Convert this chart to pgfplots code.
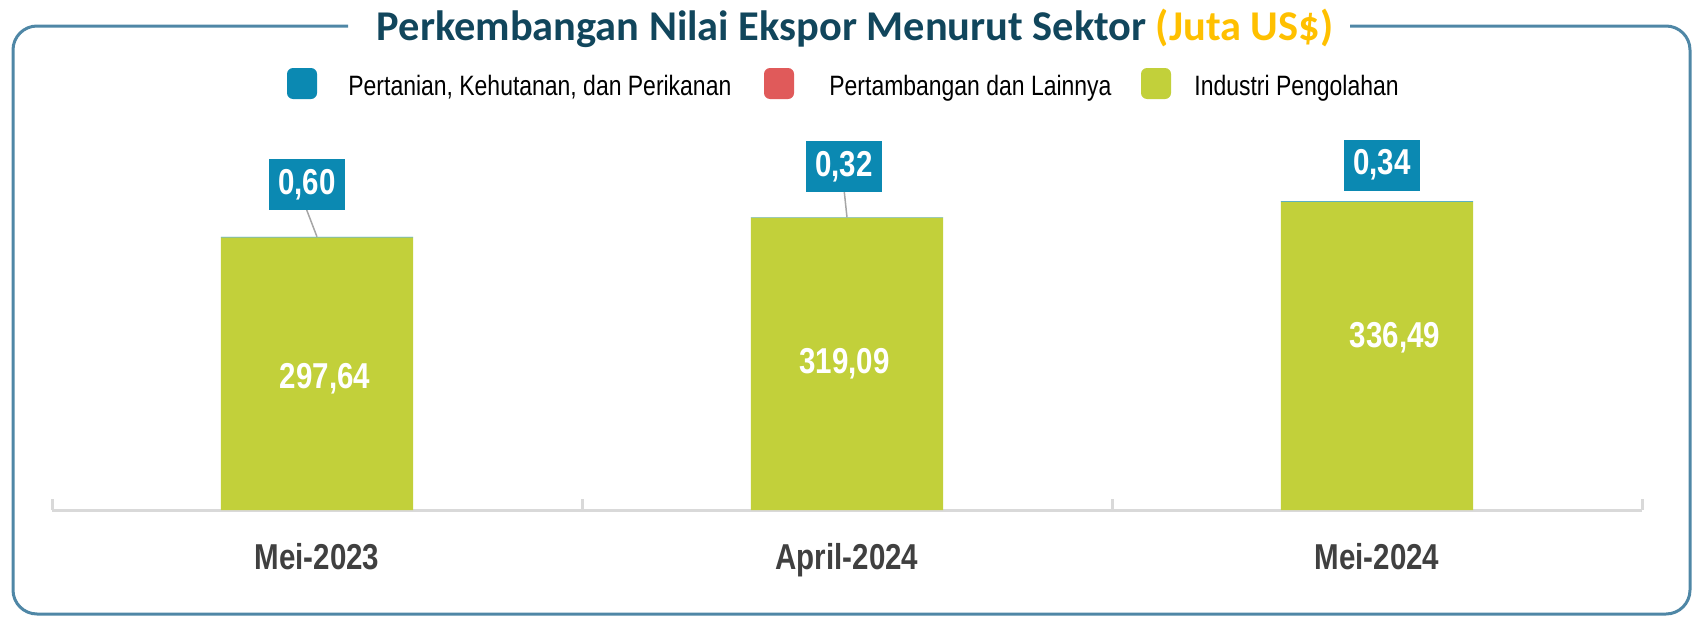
\documentclass[border=0pt]{standalone}
\usepackage{pgfplots}
\pgfplotsset{compat=1.18}
\usepackage{fontspec}
\setmainfont{Liberation Sans}
\newfontfamily\narrow[FakeStretch=0.82]{Liberation Sans}
\newfontfamily\titlefont{Carlito}
\definecolor{cblue}{HTML}{0B89B2}
\definecolor{cred}{HTML}{E05A5A}
\definecolor{cgreen}{HTML}{C2D03A}
\definecolor{ctitle}{HTML}{11465C}
\definecolor{camber}{HTML}{FFC000}
\definecolor{cframe}{HTML}{4F87A6}
\definecolor{cgray}{HTML}{D9D9D9}
\definecolor{clabel}{HTML}{404040}
\definecolor{clead}{HTML}{A6A6A6}
\begin{document}
\begin{tikzpicture}[x=0.5pt,y=0.5pt]
\useasboundingbox (0,0) rectangle (1693,618);
% frame
\draw[cframe, line width=1.5pt, rounded corners=12pt] (348,592) -- (13,592) -- (13,4) -- (1690,4) -- (1690,592) -- (1350,592);
% title
\node[anchor=base, inner sep=0, font=\titlefont\bfseries\fontsize{21.2}{24}\selectfont, text=ctitle] at (855,578) {Perkembangan Nilai Ekspor Menurut Sektor \textcolor{camber}{(Juta US\$)}};
% legend
\fill[cblue, rounded corners=3pt] (287,519) rectangle (317,550);
\node[anchor=base west, inner sep=0, font=\narrow\fontsize{14}{16}\selectfont] at (348,523) {Pertanian, Kehutanan, dan Perikanan};
\fill[cred, rounded corners=3pt] (764,519) rectangle (794,550);
\node[anchor=base west, inner sep=0, font=\narrow\fontsize{14}{16}\selectfont] at (829,523) {Pertambangan dan Lainnya};
\fill[cgreen, rounded corners=3pt] (1141,519) rectangle (1171,550);
\node[anchor=base west, inner sep=0, font=\narrow\fontsize{14}{16}\selectfont] at (1194,523) {Industri Pengolahan};
\begin{axis}[
  at={(26pt,54pt)}, anchor=south west,
  x=265pt, y=0.458pt,
  xmin=-0.5, xmax=2.5, ymin=0, ymax=420,
  ybar stacked, bar width=0.3623,
  reverse stacked plots=false,
  axis x line*=bottom, axis y line=none,
  x axis line style={cgray, line width=1.5pt, -},
  xtick={0,1,2},
  xticklabels={Mei-2023, April-2024, Mei-2024},
  major tick length=0pt,
  minor xtick={-0.5,0.5,1.5,2.5},
  minor tick length=5.5pt,
  tick align=inside,
  minor tick style={cgray, line width=1.5pt},
  ytick=\empty,
  xticklabel style={anchor=base, yshift=-29.5pt, font=\narrow\bfseries\fontsize{18}{20}\selectfont, text=clabel},
  clip=false,
]
\addplot[fill=cgreen, draw=none] coordinates {(0,297.64) (1,319.09) (2,336.49)};
\addplot[fill=cblue, draw=none] coordinates {(0,0.60) (1,0.32) (2,0.34)};
\addplot[fill=cred, draw=none] coordinates {(0,0) (1,0) (2,0)};
% values inside bars
\node[text=white, font=\narrow\bfseries\fontsize{18}{20}\selectfont] at (axis cs:0.015,143) {297,64};
\node[text=white, font=\narrow\bfseries\fontsize{18}{20}\selectfont] at (axis cs:0.995,159.4) {319,09};
\node[text=white, font=\narrow\bfseries\fontsize{18}{20}\selectfont] at (axis cs:2.034,187.8) {336,49};
% leader lines
\draw[clead, line width=0.75pt] (axis cs:-0.0194,327.5) -- (axis cs:0,298.24);
\draw[clead, line width=0.75pt] (axis cs:0.9949,347.2) -- (axis cs:1,319.41);
% blue labels
\node[fill=cblue, text=white, minimum width=38pt, minimum height=25.5pt, inner sep=0, font=\narrow\bfseries\fontsize{18}{20}\selectfont] at (axis cs:-0.019,355.3) {0,60};
\node[fill=cblue, text=white, minimum width=38pt, minimum height=25.5pt, inner sep=0, font=\narrow\bfseries\fontsize{18}{20}\selectfont] at (axis cs:0.9943,375) {0,32};
\node[fill=cblue, text=white, minimum width=38pt, minimum height=25.5pt, inner sep=0, font=\narrow\bfseries\fontsize{18}{20}\selectfont] at (axis cs:2.0094,376.6) {0,34};
\end{axis}
\end{tikzpicture}
\end{document}
